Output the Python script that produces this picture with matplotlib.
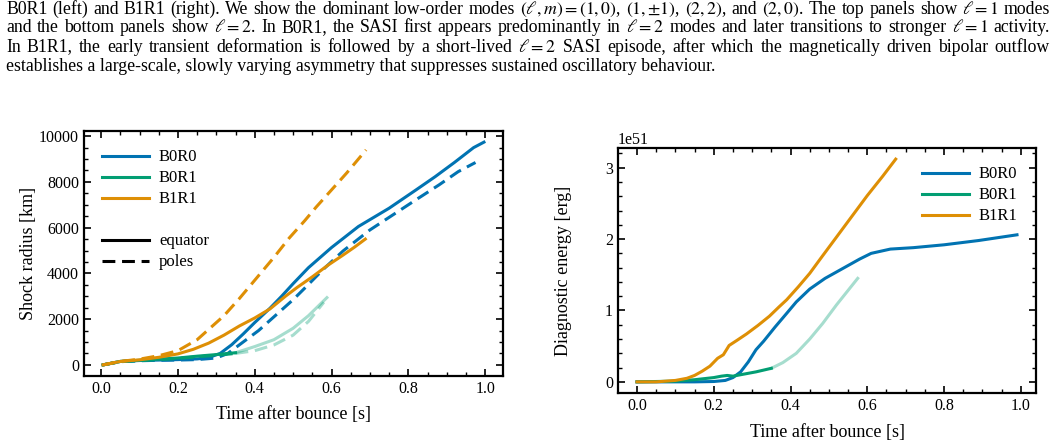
import matplotlib
matplotlib.use("Agg")
import matplotlib.pyplot as plt
from matplotlib.lines import Line2D
from matplotlib.ticker import AutoMinorLocator
import numpy as np

# ---------------- data ----------------
# Left panel: shock radius [km]
t_b0r0_eq = [0.005, 0.05, 0.1, 0.15, 0.2, 0.25, 0.28, 0.31, 0.34, 0.37, 0.4, 0.44, 0.47, 0.5, 0.54, 0.6,
             0.67, 0.75, 0.82, 0.87, 0.92, 0.97, 0.997]
r_b0r0_eq = [0, 150, 190, 210, 230, 260, 320, 500, 880, 1350, 1850, 2480, 3000, 3550, 4250, 5130,
             6050, 6850, 7650, 8230, 8850, 9500, 9740]
t_b0r0_po = [0.005, 0.05, 0.1, 0.15, 0.2, 0.25, 0.3, 0.33, 0.37, 0.41, 0.46, 0.5, 0.53, 0.58, 0.63,
             0.7, 0.76, 0.82, 0.88, 0.93, 0.975]
r_b0r0_po = [0, 140, 180, 200, 210, 230, 300, 500, 1000, 1500, 2250, 2850, 3350, 4200, 4980,
             5900, 6560, 7220, 7870, 8450, 8850]
t_b1r1_eq = [0.005, 0.05, 0.1, 0.15, 0.2, 0.24, 0.28, 0.32, 0.36, 0.4, 0.44, 0.48, 0.51, 0.55, 0.59,
             0.63, 0.66, 0.688]
r_b1r1_eq = [0, 150, 220, 330, 480, 680, 950, 1300, 1700, 2050, 2450, 3000, 3380, 3850, 4350,
             4800, 5150, 5500]
t_b1r1_po = [0.005, 0.05, 0.1, 0.15, 0.2, 0.25, 0.29, 0.32, 0.36, 0.41, 0.45, 0.49, 0.53, 0.56, 0.6,
             0.64, 0.69]
r_b1r1_po = [0, 150, 250, 400, 620, 1100, 1700, 2150, 2900, 3900, 4700, 5550, 6300, 6900, 7650,
             8400, 9400]
t_b0r1_eq = [0.005, 0.05, 0.1, 0.15, 0.2, 0.25, 0.3, 0.35]
r_b0r1_eq = [0, 150, 200, 250, 300, 380, 450, 530]
t_b0r1_eq_ext = [0.35, 0.4, 0.45, 0.5, 0.54, 0.588]
r_b0r1_eq_ext = [530, 800, 1100, 1600, 2150, 2940]
t_b0r1_po = [0.005, 0.05, 0.1, 0.15, 0.2, 0.25, 0.3, 0.35]
r_b0r1_po = [0, 140, 190, 230, 280, 350, 420, 500]
t_b0r1_po_ext = [0.35, 0.4, 0.45, 0.5, 0.54, 0.58]
r_b0r1_po_ext = [500, 620, 870, 1300, 1900, 2740]

# Right panel: diagnostic energy [1e51 erg]
t_e_b1r1 = [0.0, 0.05, 0.1, 0.13, 0.15, 0.17, 0.19, 0.21, 0.225, 0.24, 0.26, 0.285, 0.315, 0.345,
            0.37, 0.39, 0.42, 0.45, 0.48, 0.52, 0.56, 0.6, 0.64, 0.674]
e_b1r1 = [0, 0, 0.02, 0.05, 0.09, 0.15, 0.22, 0.33, 0.38, 0.51, 0.58, 0.67, 0.79, 0.92,
          1.05, 1.15, 1.33, 1.52, 1.74, 2.03, 2.32, 2.61, 2.88, 3.12]
t_e_b0r0 = [0.0, 0.1, 0.15, 0.2, 0.23, 0.25, 0.27, 0.29, 0.31, 0.33, 0.36, 0.39, 0.415, 0.45, 0.49,
            0.54, 0.58, 0.61, 0.66, 0.72, 0.8, 0.89, 0.99]
e_b0r0 = [0, 0, 0, 0.005, 0.02, 0.06, 0.14, 0.28, 0.45, 0.57, 0.77, 0.96, 1.12, 1.3, 1.45,
          1.6, 1.72, 1.80, 1.86, 1.88, 1.92, 1.98, 2.06]
t_e_b0r1 = [0.0, 0.1, 0.15, 0.2, 0.22, 0.235, 0.25, 0.28, 0.31, 0.35]
e_b0r1 = [0, 0.01, 0.03, 0.06, 0.08, 0.09, 0.08, 0.11, 0.14, 0.19]
t_e_b0r1_ext = [0.35, 0.38, 0.415, 0.45, 0.484, 0.52, 0.575]
e_b0r1_ext = [0.19, 0.27, 0.40, 0.60, 0.82, 1.08, 1.45]

models = ["B0R0", "B0R1", "B1R1"]
colors = {"B0R0": "#0173b2", "B0R1": "#029e73", "B1R1": "#de8f05"}

caption_lines = [
    r"B0R1 (left) and B1R1 (right). We show the dominant low-order modes $(\ell,m)=(1,0)$, $(1,{\pm}1)$, $(2,2)$, and $(2,0)$. The top panels show $\ell=1$ modes",
    r"and the bottom panels show $\ell=2$. In B0R1, the SASI first appears predominantly in $\ell=2$ modes and later transitions to stronger $\ell=1$ activity.",
    r"In B1R1, the early transient deformation is followed by a short-lived $\ell=2$ SASI episode, after which the magnetically driven bipolar outflow",
    r"establishes a large-scale, slowly varying asymmetry that suppresses sustained oscillatory behaviour.",
]

# ---------------- style ----------------
plt.rcParams["font.family"] = ["Liberation Serif", "DejaVu Serif"]
plt.rcParams["mathtext.fontset"] = "stix"
plt.rcParams["axes.linewidth"] = 1.6
for ax_ in ("x", "y"):
    plt.rcParams[f"{ax_}tick.direction"] = "in"
    plt.rcParams[f"{ax_}tick.major.size"] = 5
    plt.rcParams[f"{ax_}tick.minor.size"] = 2.8
    plt.rcParams[f"{ax_}tick.major.width"] = 1.2
    plt.rcParams[f"{ax_}tick.minor.width"] = 1.0
plt.rcParams["xtick.top"] = True
plt.rcParams["ytick.right"] = True

W, H = 1056, 446
fig = plt.figure(figsize=(W / 100, H / 100), dpi=100)

LW = 2.2
DASH = (4.2, 2.2)
ALPHA_EXT = 0.35
TICK_FS = 11.5
LABEL_FS = 13
LEG_FS = 12

ax1 = fig.add_axes([84 / W, 1 - 376 / H, 419 / W, 245 / H])
ax2 = fig.add_axes([618 / W, 1 - 393 / H, 418 / W, 245 / H])

# left panel
ax1.plot(t_b0r0_eq, r_b0r0_eq, color=colors["B0R0"], lw=LW)
ax1.plot(t_b0r0_po, r_b0r0_po, color=colors["B0R0"], lw=LW, dashes=DASH)
ax1.plot(t_b0r1_eq_ext, r_b0r1_eq_ext, color=colors["B0R1"], lw=LW, alpha=ALPHA_EXT)
ax1.plot(t_b0r1_po_ext, r_b0r1_po_ext, color=colors["B0R1"], lw=LW, alpha=ALPHA_EXT, dashes=DASH)
ax1.plot(t_b0r1_eq, r_b0r1_eq, color=colors["B0R1"], lw=LW)
ax1.plot(t_b0r1_po, r_b0r1_po, color=colors["B0R1"], lw=LW, dashes=DASH)
ax1.plot(t_b1r1_eq, r_b1r1_eq, color=colors["B1R1"], lw=LW)
ax1.plot(t_b1r1_po, r_b1r1_po, color=colors["B1R1"], lw=LW, dashes=DASH)

handles = [Line2D([], [], color=colors[m], lw=LW) for m in models]
handles.append(Line2D([], [], color="none", lw=0))
handles.append(Line2D([], [], color="black", lw=LW))
handles.append(Line2D([], [], color="black", lw=LW, dashes=DASH))
labels = models + [" ", "equator", "poles"]
ax1.legend(handles, labels, loc="upper left", frameon=False, fontsize=LEG_FS,
           handlelength=2.8, handletextpad=0.6, labelspacing=0.3, borderaxespad=0.7)
ax1.set_xlabel("Time after bounce [s]", fontsize=LABEL_FS, labelpad=6.5)
ax1.set_ylabel("Shock radius [km]", fontsize=LABEL_FS)
ax1.set_yticks([0, 2000, 4000, 6000, 8000, 10000])

# right panel
ax2.plot(t_e_b0r0, np.array(e_b0r0) * 1e51, color=colors["B0R0"], lw=LW, label="B0R0")
ax2.plot(t_e_b0r1_ext, np.array(e_b0r1_ext) * 1e51, color=colors["B0R1"], lw=LW, alpha=ALPHA_EXT)
ax2.plot(t_e_b0r1, np.array(e_b0r1) * 1e51, color=colors["B0R1"], lw=LW, label="B0R1")
ax2.plot(t_e_b1r1, np.array(e_b1r1) * 1e51, color=colors["B1R1"], lw=LW, label="B1R1")
ax2.legend(loc="upper right", frameon=False, fontsize=LEG_FS, handlelength=2.8,
           handletextpad=0.6, labelspacing=0.3, borderaxespad=0.7)
ax2.set_xlabel("Time after bounce [s]", fontsize=LABEL_FS, labelpad=7)
ax2.set_ylabel("Diagnostic energy [erg]", fontsize=LABEL_FS)
ax2.set_yticks(np.array([0, 1, 2, 3]) * 1e51)

for ax in (ax1, ax2):
    ax.set_xticks([0.0, 0.2, 0.4, 0.6, 0.8, 1.0])
    ax.xaxis.set_minor_locator(AutoMinorLocator(4))
    ax.tick_params(labelsize=TICK_FS)
    ax.yaxis.set_label_coords(-0.111, 0.5)
ax1.yaxis.set_minor_locator(AutoMinorLocator(4))
ax2.yaxis.set_minor_locator(AutoMinorLocator(5))
ax2.yaxis.get_offset_text().set_fontsize(TICK_FS)

# ---------------- caption (justified) ----------------
CAP_FS = 12.8
X0, X1 = 6, 1050
baselines = [13.5, 32.5, 51.5, 71.0]
renderer = fig.canvas.get_renderer()


def tokens_of(line):
    toks, cur, inmath = [], "", False
    for ch in line:
        if ch == "$":
            inmath = not inmath
        if ch == " " and not inmath:
            if cur:
                toks.append(cur)
            cur = ""
        else:
            cur += ch
    if cur:
        toks.append(cur)
    return toks


for i, line in enumerate(caption_lines):
    yb = 1 - baselines[i] / H
    if i == len(caption_lines) - 1:
        fig.text(X0 / W, yb, line, fontsize=CAP_FS, va="baseline", ha="left")
        continue
    toks = tokens_of(line)
    texts = [fig.text(0, yb, t, fontsize=CAP_FS, va="baseline", ha="left") for t in toks]
    widths = [t.get_window_extent(renderer).width for t in texts]
    gap = (X1 - X0 - sum(widths)) / (len(toks) - 1)
    x = X0
    for t, w in zip(texts, widths):
        t.set_x(x / W)
        x += w + gap

fig.savefig("out.png", dpi=100)
